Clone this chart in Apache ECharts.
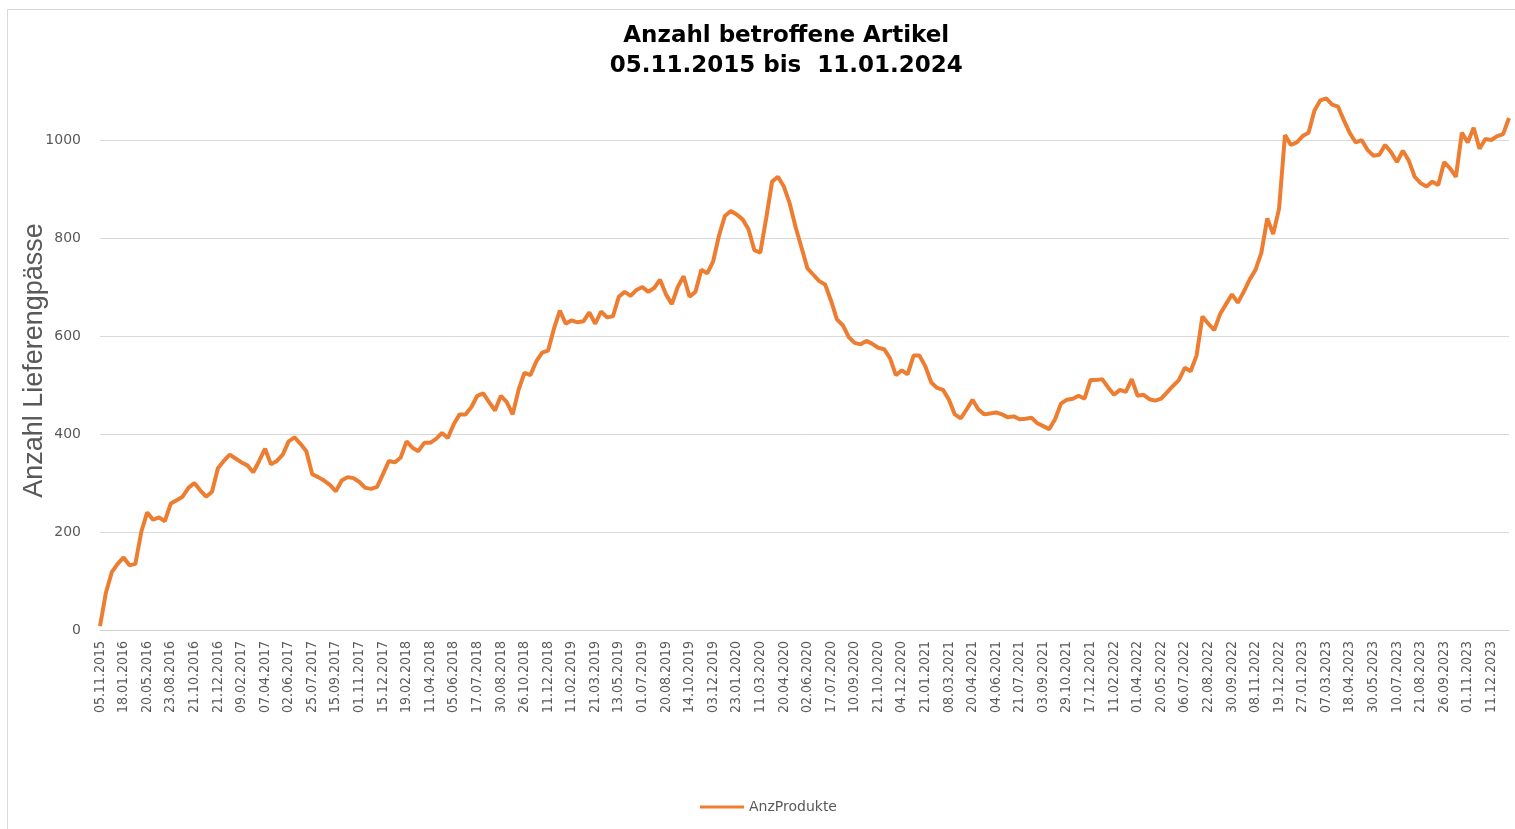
<!DOCTYPE html>
<html>
<head>
<meta charset="utf-8">
<title>Anzahl betroffene Artikel</title>
<script src="https://cdn.jsdelivr.net/npm/echarts@6/dist/echarts.min.js"></script>
<style>
  html, body { margin: 0; padding: 0; background: #ffffff; }
  #chart { width: 1515px; height: 829px; }
</style>
</head>
<body>
<div id="chart"></div>
<script>
// Beschriftete Datumswerte der x-Achse (jeder 4. Punkt)
const dateLabels = [
  "05.11.2015", "18.01.2016", "20.05.2016", "23.08.2016", "21.10.2016", "21.12.2016",
  "09.02.2017", "07.04.2017", "02.06.2017", "25.07.2017", "15.09.2017", "01.11.2017",
  "15.12.2017", "19.02.2018", "11.04.2018", "05.06.2018", "17.07.2018", "30.08.2018",
  "26.10.2018", "11.12.2018", "11.02.2019", "21.03.2019", "13.05.2019", "01.07.2019",
  "20.08.2019", "14.10.2019", "03.12.2019", "23.01.2020", "11.03.2020", "20.04.2020",
  "02.06.2020", "17.07.2020", "10.09.2020", "21.10.2020", "04.12.2020", "21.01.2021",
  "08.03.2021", "20.04.2021", "04.06.2021", "21.07.2021", "03.09.2021", "29.10.2021",
  "17.12.2021", "11.02.2022", "01.04.2022", "20.05.2022", "06.07.2022", "22.08.2022",
  "30.09.2022", "08.11.2022", "19.12.2022", "27.01.2023", "07.03.2023", "18.04.2023",
  "30.05.2023", "10.07.2023", "21.08.2023", "26.09.2023", "01.11.2023", "11.12.2023"
];
const labelStep = 4;

// AnzProdukte
const anzProdukte = [
  8, 76, 118, 135, 148, 132, 135, 200, 240, 225, 230, 222, 258, 265, 272, 290, 300, 285, 272, 282,
  330, 345, 358, 350, 342, 336, 322, 345, 370, 338, 345, 358, 385, 393, 380, 365, 318, 312, 305, 296,
  283, 305, 312, 310, 302, 290, 288, 292, 318, 345, 342, 352, 385, 372, 365, 382, 382, 390, 402, 392,
  420, 440, 440, 455, 478, 483, 465, 448, 478, 465, 440, 490, 525, 520, 548, 566, 570, 615, 652, 625,
  632, 628, 630, 648, 625, 650, 638, 640, 680, 690, 682, 694, 700, 690, 698, 715, 685, 665, 700, 722,
  680, 690, 735, 728, 752, 805, 845, 855, 848, 838, 818, 775, 770, 840, 915, 925, 905, 870, 822, 780,
  738, 725, 712, 705, 672, 634, 622, 598, 586, 583, 590, 584, 576, 573, 555, 520, 530, 522, 560, 560,
  538, 505, 494, 490, 470, 440, 432, 450, 470, 450, 440, 442, 444, 440, 434, 436, 430, 431, 433, 422,
  416, 410, 430, 462, 470, 472, 478, 472, 510, 510, 512, 495, 480, 490, 486, 512, 478, 480, 471, 468,
  472, 485, 498, 510, 535, 528, 560, 640, 625, 612, 645, 665, 685, 668, 690, 715, 735, 770, 840, 808,
  860, 1010, 990, 995, 1008, 1015, 1060, 1081, 1085, 1072, 1068, 1040, 1014, 995, 1000, 980, 968, 970, 990, 975,
  955, 978, 958, 925, 912, 905, 915, 908, 955, 942, 925, 1015, 995, 1025, 982, 1002, 1000, 1008, 1012, 1045
];

const yMax = 1100;
const yStep = 200;

const gray = "#595959";
const chart = echarts.init(document.getElementById("chart"));

const option = {
  backgroundColor: "#FFFFFF",
  animation: false,
  graphic: [
    {
      type: "rect",
      shape: { x: 7.5, y: 9.5, width: 1600, height: 900 },
      style: { fill: "none", stroke: "#d9d9d9", lineWidth: 1 },
      silent: true,
    },
  ],
  title: {
    text: "Anzahl betroffene Artikel\n05.11.2015 bis  11.01.2024",
    left: "51.9%",
    top: 21,
    padding: 0,
    textAlign: "center",
    textStyle: {
      fontFamily: "DejaVu Sans",
      fontWeight: "bold",
      fontSize: 23,
      lineHeight: 30,
      color: "#000000",
    },
  },
  legend: {
    data: [{ name: "AnzProdukte", icon: "rect" }],
    left: 700,
    top: 800,
    padding: 0,
    itemWidth: 44,
    itemHeight: 3,
    textStyle: { fontFamily: "DejaVu Sans", fontSize: 14, color: gray },
  },
  grid: {
    left: 100,
    right: 6,
    top: 91,
    bottom: 199,
    outerBoundsMode: "none",
  },
  xAxis: {
    type: "category",
    boundaryGap: false,
    data: anzProdukte.map((v, i) => i),
    axisLine: { lineStyle: { color: "#d0d0d0", width: 1 } },
    axisTick: { show: false },
    axisLabel: {
      interval: labelStep - 1,
      rotate: 90,
      margin: 11,
      fontFamily: "DejaVu Sans Condensed, Liberation Sans Narrow, DejaVu Sans",
      fontSize: 14,
      color: gray,
      formatter: (v, idx) => (idx % labelStep === 0 ? dateLabels[idx / labelStep] || "" : ""),
    },
    splitLine: { show: false },
  },
  yAxis: {
    type: "value",
    min: 0,
    max: yMax,
    interval: yStep,
    name: "Anzahl Lieferengpässe",
    nameLocation: "middle",
    nameGap: 52,
    nameMoveOverlap: false,
    nameTextStyle: { fontFamily: "Liberation Sans", fontSize: 27, color: gray },
    axisLine: { show: false },
    axisTick: { show: false },
    axisLabel: {
      margin: 19,
      showMaxLabel: false,
      fontFamily: "DejaVu Sans",
      fontSize: 14,
      color: gray,
      formatter: (v) => String(v),
    },
    splitLine: { showMaxLine: false, lineStyle: { color: "#d9d9d9", width: 1 } },
  },
  series: [
    {
      name: "AnzProdukte",
      type: "line",
      data: anzProdukte,
      showSymbol: false,
      symbol: "none",
      itemStyle: { color: "#ED7D31" },
      lineStyle: { color: "#ED7D31", width: 4 },
    },
  ],
};

chart.setOption(option);
</script>
</body>
</html>
